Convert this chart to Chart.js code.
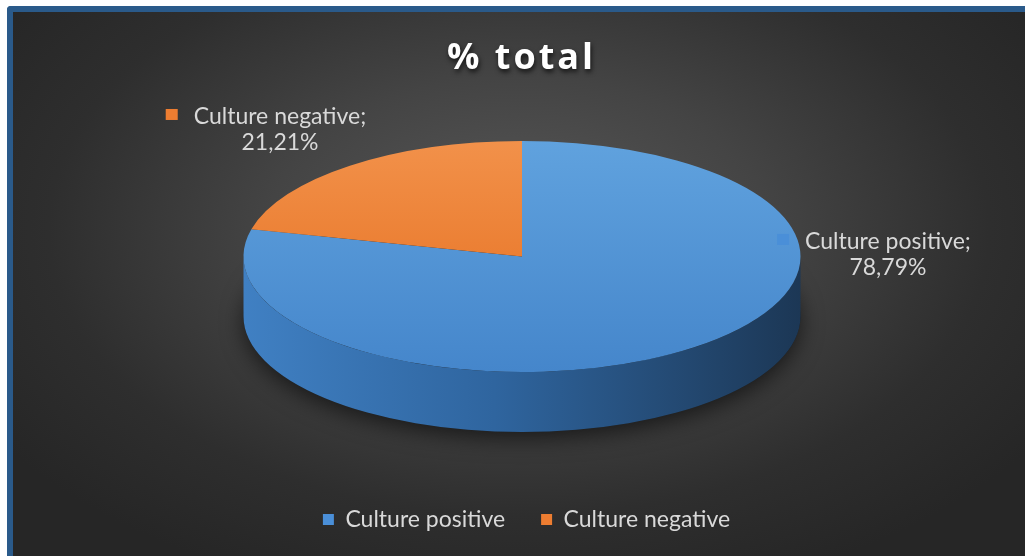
<!DOCTYPE html>
<html>
<head>
<meta charset="utf-8">
<script src="https://cdn.jsdelivr.net/npm/chart.js@4.4.1/dist/chart.umd.min.js"></script>
<style>
  html, body { margin: 0; padding: 0; background: #ffffff; }
  #frame {
    position: absolute; left: 7px; top: 6px; width: 1018px; height: 550px;
    box-sizing: border-box;
    border-top: 6px solid #2a5a8a;
    border-left: 6px solid #2a5a8a;
    border-top-left-radius: 4px;
    background: radial-gradient(ellipse 62% 70% at 50% 40%, #585858 0%, #444444 40%, #2e2e2e 75%, #262626 100%);
  }
  #chart { position: absolute; left: 0; top: 0; }
</style>
</head>
<body>
<div id="frame"></div>
<canvas id="chart" width="1025" height="556"></canvas>
<script>
// data
const categories = ['Culture positive', 'Culture negative'];
const percentValues = [78.79, 21.21];

// styles
const topColors = [['#60a2de', '#4586cb'], ['#f2914a', '#e46c1c']];
const sideColors = [['#4080c3', '#1c3755'], ['#c9601a', '#7a3a10']];
const legendColors = ['#4a8fd8', '#ed7d31'];
const labelAnchors = [[1.314, -0.126], [-0.869, -1.208]]; // relative to pie radii
const textColor = '#d9d9d9';
const FONT = 'Lato, "Open Sans", sans-serif';
const LABEL_SIZE = 23;

// pie projection on the page
const CX = 522, CY = 256.5, RX = 278.5, RY = 115.5, DEPTH = 60;

const fmt = v => v.toFixed(2).replace('.', ',') + '%';

function frontSegments(s, e) {
  const segs = [];
  for (let k = -2; k <= 2; k++) {
    const lo = Math.max(s, 2 * Math.PI * k);
    const hi = Math.min(e, 2 * Math.PI * k + Math.PI);
    if (hi > lo) segs.push([lo - 2 * Math.PI * k, hi - 2 * Math.PI * k]);
  }
  return segs;
}

function wrapDraw(box, shift, before) {
  if (!box || box._wrapped) return;
  const orig = box.draw.bind(box);
  box.draw = function (area) {
    const c = box.ctx;
    c.save();
    c.translate(shift, 0);
    if (before) before(c);
    orig(area);
    c.restore();
  };
  box._wrapped = true;
}

const pie3d = {
  id: 'pie3d',
  beforeDraw(chart) {
    wrapDraw(chart.titleBlock, 1, c => {
      c.shadowColor = 'rgba(0,0,0,0.7)';
      c.shadowBlur = 5;
      c.shadowOffsetX = 1;
      c.shadowOffsetY = 3;
      c.letterSpacing = '3px';
    });
    wrapDraw(chart.legend, 6);
  },
  beforeDatasetsDraw(chart) {
    const arcs = chart.getDatasetMeta(0).data;
    if (!arcs.length) return;
    const c = chart.ctx;
    const { x, y, outerRadius } = arcs[0];

    // shadow under the pie
    c.save();
    c.shadowColor = 'rgba(0,0,0,0.6)';
    c.shadowBlur = 22;
    c.shadowOffsetY = 6;
    c.fillStyle = '#1c1c1c';
    c.beginPath();
    c.ellipse(CX, CY + DEPTH, RX, RY, 0, 0, Math.PI * 2);
    c.fill();
    c.restore();

    // visible side walls
    arcs.forEach((arc, i) => {
      frontSegments(arc.startAngle, arc.endAngle).forEach(([a, b]) => {
        const g = c.createLinearGradient(CX - RX, 0, CX + RX, 0);
        g.addColorStop(0, sideColors[i][0]);
        g.addColorStop(0.45, '#2f659f');
        g.addColorStop(1, sideColors[i][1]);
        c.fillStyle = i === 0 ? g : sideColors[i][0];
        c.beginPath();
        c.ellipse(CX, CY, RX, RY, 0, a, b, false);
        c.ellipse(CX, CY + DEPTH, RX, RY, 0, b, a, true);
        c.closePath();
        c.fill();
      });
    });

    // flatten the top face into an ellipse
    c.save();
    c.translate(CX, CY);
    c.scale(RX / outerRadius, RY / outerRadius);
    c.translate(-x, -y);
  },
  afterDatasetsDraw(chart) {
    const c = chart.ctx;
    c.restore();

    // data labels
    c.save();
    c.font = LABEL_SIZE + 'px ' + FONT;
    c.textAlign = 'center';
    c.textBaseline = 'middle';
    categories.forEach((name, i) => {
      const ax = CX + labelAnchors[i][0] * RX;
      const ay = CY + labelAnchors[i][1] * RY;
      const line1 = name + ';';
      const w = c.measureText(line1).width;
      c.fillStyle = legendColors[i];
      c.fillRect(ax - w / 2 - 28, ay - 8, 12, 11);
      c.fillStyle = textColor;
      c.fillText(line1, ax, ay);
      c.fillText(fmt(percentValues[i]), ax, ay + 26);
    });
    c.restore();
  }
};

const ctx = document.getElementById('chart').getContext('2d');
new Chart(ctx, {
  type: 'pie',
  data: {
    labels: categories,
    datasets: [{
      data: percentValues,
      borderWidth: 0,
      clip: false,
      backgroundColor: (context) => {
        const chart = context.chart;
        const area = chart.chartArea;
        const i = context.dataIndex;
        if (!area || i === undefined) return topColors[0][0];
        const g = chart.ctx.createLinearGradient(0, area.top, 0, area.bottom);
        g.addColorStop(0, topColors[i][0]);
        g.addColorStop(1, topColors[i][1]);
        return g;
      }
    }]
  },
  options: {
    responsive: false,
    animation: false,
    devicePixelRatio: 1,
    layout: { padding: { top: 28, bottom: 15, left: 26, right: 10 } },
    plugins: {
      title: {
        display: true,
        text: '% total',
        color: '#ffffff',
        font: { family: '"Open Sans", sans-serif', size: 36, weight: 'bold' },
        padding: { top: 9, bottom: 20 }
      },
      legend: {
        position: 'bottom',
        labels: {
          color: textColor,
          boxWidth: 11,
          boxHeight: 11,
          padding: 36,
          font: { family: FONT, size: LABEL_SIZE },
          generateLabels: (chart) => categories.map((name, i) => ({
            text: name,
            fillStyle: legendColors[i],
            strokeStyle: legendColors[i],
            lineWidth: 0,
            fontColor: textColor,
            index: i
          }))
        }
      },
      tooltip: { enabled: false }
    }
  },
  plugins: [pie3d]
});
</script>
</body>
</html>
